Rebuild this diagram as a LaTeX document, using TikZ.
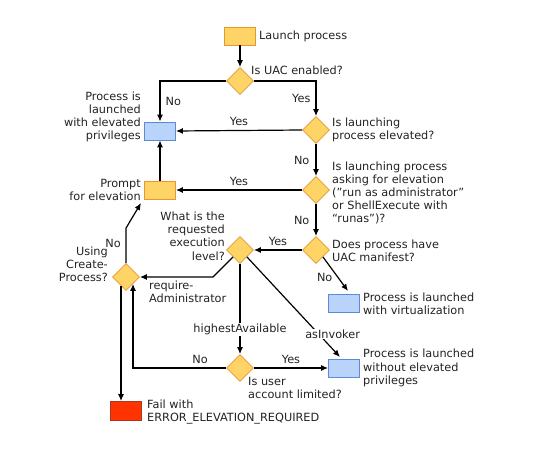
\documentclass[tikz,border=0pt]{standalone}
\usepackage{fontspec}
\setmainfont{DejaVu Sans}
\usetikzlibrary{shapes.geometric,arrows.meta,calc}
\definecolor{boxyellow}{HTML}{FFD466}
\definecolor{edgeorange}{HTML}{E8962E}
\definecolor{boxblue}{HTML}{B9D3FA}
\definecolor{edgeblue}{HTML}{5A8BD8}
\definecolor{boxred}{HTML}{FF3300}
\definecolor{edgered}{HTML}{A83A22}
\definecolor{txtgray}{HTML}{222222}
\tikzset{
  ybox/.style={draw=edgeorange, fill=boxyellow, line width=0.8pt, minimum width=31pt, minimum height=18pt, inner sep=0pt},
  bbox/.style={draw=edgeblue, fill=boxblue, line width=0.8pt, minimum width=31pt, minimum height=18pt, inner sep=0pt},
  rbox/.style={draw=edgered, fill=boxred, line width=0.8pt, minimum width=31pt, minimum height=19pt, inner sep=0pt},
  decision/.style={diamond, aspect=1, draw=edgeorange, fill=boxyellow, line width=0.8pt, minimum width=27pt, minimum height=27pt, inner sep=0pt},
  lbl/.style={font=\fontsize{11.3}{13.2}\selectfont, text=txtgray, inner sep=1pt},
  flow/.style={line width=1.2pt, ->},
}
\begin{document}
\begin{tikzpicture}[x=1pt,y=-1pt,>={Latex[length=7pt,width=6pt]}]
    \useasboundingbox (0,0) rectangle (546,449);
    %% boxes and decisions
    \node[ybox] (launch) at (240,36) {};
    \node[decision] (uac) at (240,81) {};
    \node[decision] (elev) at (316,130) {};
    \node[decision] (ask) at (316,190) {};
    \node[decision] (manifest) at (316,250) {};
    \node[decision] (level) at (240,250) {};
    \node[decision] (create) at (126,277) {};
    \node[decision] (limited) at (240,368) {};
    \node[bbox] (elevated) at (160,131) {};
    \node[ybox] (prompt) at (160,190) {};
    \node[bbox] (virt) at (344,303) {};
    \node[bbox] (noelev) at (344,368) {};
    \node[rbox] (fail) at (126,411) {};
    %% texts
    \node[lbl,anchor=west] (launchtxt) at (258,36) {Launch process};
    \node[lbl,anchor=west] (uactxt) at (250,70) {Is UAC enabled?};
    \node[lbl,anchor=west,align=left] (elevtxt) at (331,130) {Is launching\\process elevated?};
    \node[lbl,anchor=west,align=left] (asktxt) at (331,193) {Is launching process\\asking for elevation\\(”run as administrator”\\or ShellExecute with\\“runas”)?};
    \node[lbl,anchor=west,align=left] (manifesttxt) at (331,250.5) {Does process have\\UAC manifest?};
    \node[lbl,anchor=east,align=right] (leveltxt) at (226,236) {What is the\\requested\\execution\\level?};
    \node[lbl,anchor=east,align=right] (elevatedtxt) at (142,117) {Process is\\launched\\with elevated\\privileges};
    \node[lbl,anchor=east,align=right] (prompttxt) at (142,190) {Prompt\\for elevation};
    \node[lbl,anchor=east,align=right] (createtxt) at (109,264) {Using\\Create-\\Process?};
    \node[lbl,anchor=west,align=left] (requiretxt) at (148,292) {require-\\Administrator};
    \node[lbl,anchor=west,align=left] (virttxt) at (362,303.5) {Process is launched\\with virtualization};
    \node[lbl,anchor=west,align=left] (noelevtxt) at (362,368) {Process is launched\\without elevated\\privileges};
    \node[lbl,anchor=west,align=left] (limitedtxt) at (247,388) {Is user\\account limited?};
    \node[lbl,anchor=west,align=left] (failtxt) at (146,412) {Fail with\\ERROR\_ELEVATION\_REQUIRED};
    %% connectors
    \coordinate (virtin) at (348,291);
    \coordinate (noelevin) at (340,357);
    \coordinate (promptin) at (141,203);
    \draw[flow] (launch) -- (uac);
    \draw[flow] (uac.east) -| (elev.north) node[lbl,pos=.75,left=4pt] {Yes};
    \draw[flow] (uac.west) -| (elevated.north) node[lbl,pos=.75,right=4pt] {No};
    \draw[flow] (elev.west) -- (elevated.east) node[lbl,midway,above=3pt] {Yes};
    \draw[flow] (elev) -- (ask) node[lbl,midway,left=5pt] {No};
    \draw[flow] (ask.west) -- (prompt.east) node[lbl,midway,above=3pt] {Yes};
    \draw[flow] (ask) -- (manifest) node[lbl,midway,left=5pt] {No};
    \draw[flow] (manifest.west) -- (level.east) node[lbl,midway,above=3pt] {Yes};
    \draw[flow] (manifest.south east) -- (virtin) node[lbl,pos=.6,left=4pt] {No};
    \draw[flow] (prompt) -- (elevated);
    \draw[flow] (level.south west) -- ++(-20,20) -- (create.east);
    \draw[flow] (create.north) -- ++(0,-35) -- (promptin);
    \node[lbl] (notxt) at (113,243) {No};
    \draw[flow] ($(create.south)+(-5,-5)$) -- ($(fail.north)+(-5,0)$);
    \draw[flow] (limited.west) -| ($(create.south)+(7,-7)$) node[lbl,pos=.14,above=3pt] {No};
    \draw[flow] (level) -- (limited) node[lbl,pos=.73,fill=white] {highestAvailable};
    \draw[flow] (level.south east) -- (noelevin) node[lbl,pos=.77,fill=white,xshift=14pt] {asInvoker};
    \draw[flow] (limited.east) -- (noelev.west) node[lbl,midway,above=3pt] {Yes};
\end{tikzpicture}
\end{document}
